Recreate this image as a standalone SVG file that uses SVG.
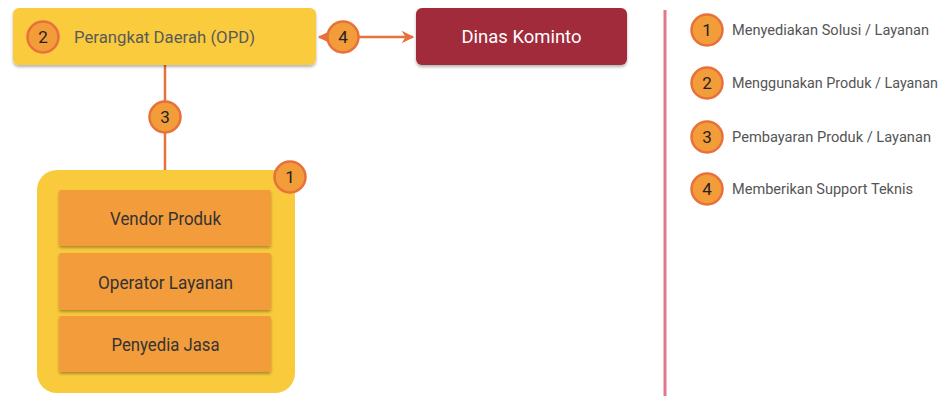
<svg xmlns="http://www.w3.org/2000/svg" width="948" height="396" viewBox="0 0 948 396">
<defs>
<filter id="sh" x="-10%" y="-20%" width="120%" height="150%">
<feDropShadow dx="0" dy="2" stdDeviation="1.5" flood-color="#000" flood-opacity="0.3"/>
</filter>
<marker id="ah" viewBox="0 0 10 10" refX="9" refY="5" markerWidth="5" markerHeight="5" orient="auto-start-reverse">
<path d="M0,0 L10,5 L0,10 L3,5 z" fill="#E8703A"/>
</marker>
<style>
.num{fill:#F39C3A;stroke:#E8703A;stroke-width:2.5}
.nt{font-family:Roboto,"Liberation Sans",sans-serif;font-size:17px;fill:#222;text-anchor:middle;dominant-baseline:central}
.bt{font-family:Roboto,"Liberation Sans",sans-serif;font-size:17.5px;fill:#333;text-anchor:middle;dominant-baseline:central}
.lbl{font-family:Roboto,"Liberation Sans",sans-serif;font-size:17px;dominant-baseline:central}
.leg{font-family:Roboto,"Liberation Sans",sans-serif;font-size:15.5px;fill:#555;dominant-baseline:central}
.inner{fill:#F39C3A;filter:url(#sh)}
.conn{stroke:#E8703A;stroke-width:2.5;fill:none}
</style>
</defs>
<rect width="948" height="396" fill="#fff"/>
<g id="connectors">
<line class="conn" x1="319" y1="37" x2="413" y2="37" marker-start="url(#ah)" marker-end="url(#ah)"/>
<line class="conn" x1="165" y1="65" x2="165" y2="170"/>
</g>
<g id="opd">
<rect x="13" y="8" width="303" height="57" rx="6" fill="#F9CB3C" filter="url(#sh)"/>
<circle class="num" cx="43" cy="37" r="15.5"/>
<text class="nt" x="43" y="37">2</text>
<text class="lbl" x="74" y="37" fill="#5a5a5a" textLength="181" lengthAdjust="spacingAndGlyphs">Perangkat Daerah (OPD)</text>
</g>
<g id="dinas">
<rect x="416" y="8" width="211" height="57" rx="6" fill="#A12B3A" filter="url(#sh)"/>
<text class="bt" x="521.5" y="37" style="fill:#fff;font-size:18.5px" textLength="120" lengthAdjust="spacingAndGlyphs">Dinas Kominto</text>
</g>
<g id="label4">
<circle class="num" cx="343" cy="37" r="15.5"/>
<text class="nt" x="343" y="37">4</text>
</g>
<g id="label3">
<circle class="num" cx="165" cy="117" r="15.5"/>
<text class="nt" x="165" y="117">3</text>
</g>
<g id="provider">
<rect x="37" y="170" width="258" height="223" rx="20" fill="#F9CB3C"/>
<rect class="inner" x="59" y="190" width="212" height="56" rx="2"/>
<text class="bt" x="165.5" y="219" textLength="111" lengthAdjust="spacingAndGlyphs">Vendor Produk</text>
<rect class="inner" x="59" y="253" width="212" height="57" rx="2"/>
<text class="bt" x="165.5" y="283" textLength="135" lengthAdjust="spacingAndGlyphs">Operator Layanan</text>
<rect class="inner" x="59" y="316" width="212" height="56" rx="2"/>
<text class="bt" x="165.5" y="345" textLength="108" lengthAdjust="spacingAndGlyphs">Penyedia Jasa</text>
<circle class="num" cx="290" cy="177" r="15.5"/>
<text class="nt" x="290" y="177">1</text>
</g>
<g id="divider">
<line x1="665" y1="10" x2="665" y2="396" stroke="#E07A8A" stroke-width="3"/>
</g>
<g id="legend">
<circle class="num" cx="707" cy="30" r="15.5"/>
<text class="nt" x="707" y="30">1</text>
<text class="leg" x="732" y="30" textLength="197" lengthAdjust="spacingAndGlyphs">Menyediakan Solusi / Layanan</text>
<circle class="num" cx="707" cy="83" r="15.5"/>
<text class="nt" x="707" y="83">2</text>
<text class="leg" x="732" y="83" style="font-size:14.5px" textLength="206" lengthAdjust="spacingAndGlyphs">Menggunakan Produk / Layanan</text>
<circle class="num" cx="707" cy="137" r="15.5"/>
<text class="nt" x="707" y="137">3</text>
<text class="leg" x="732" y="137" textLength="199" lengthAdjust="spacingAndGlyphs">Pembayaran Produk / Layanan</text>
<circle class="num" cx="707" cy="189" r="15.5"/>
<text class="nt" x="707" y="189">4</text>
<text class="leg" x="732" y="189" textLength="181" lengthAdjust="spacingAndGlyphs">Memberikan Support Teknis</text>
</g>
</svg>
